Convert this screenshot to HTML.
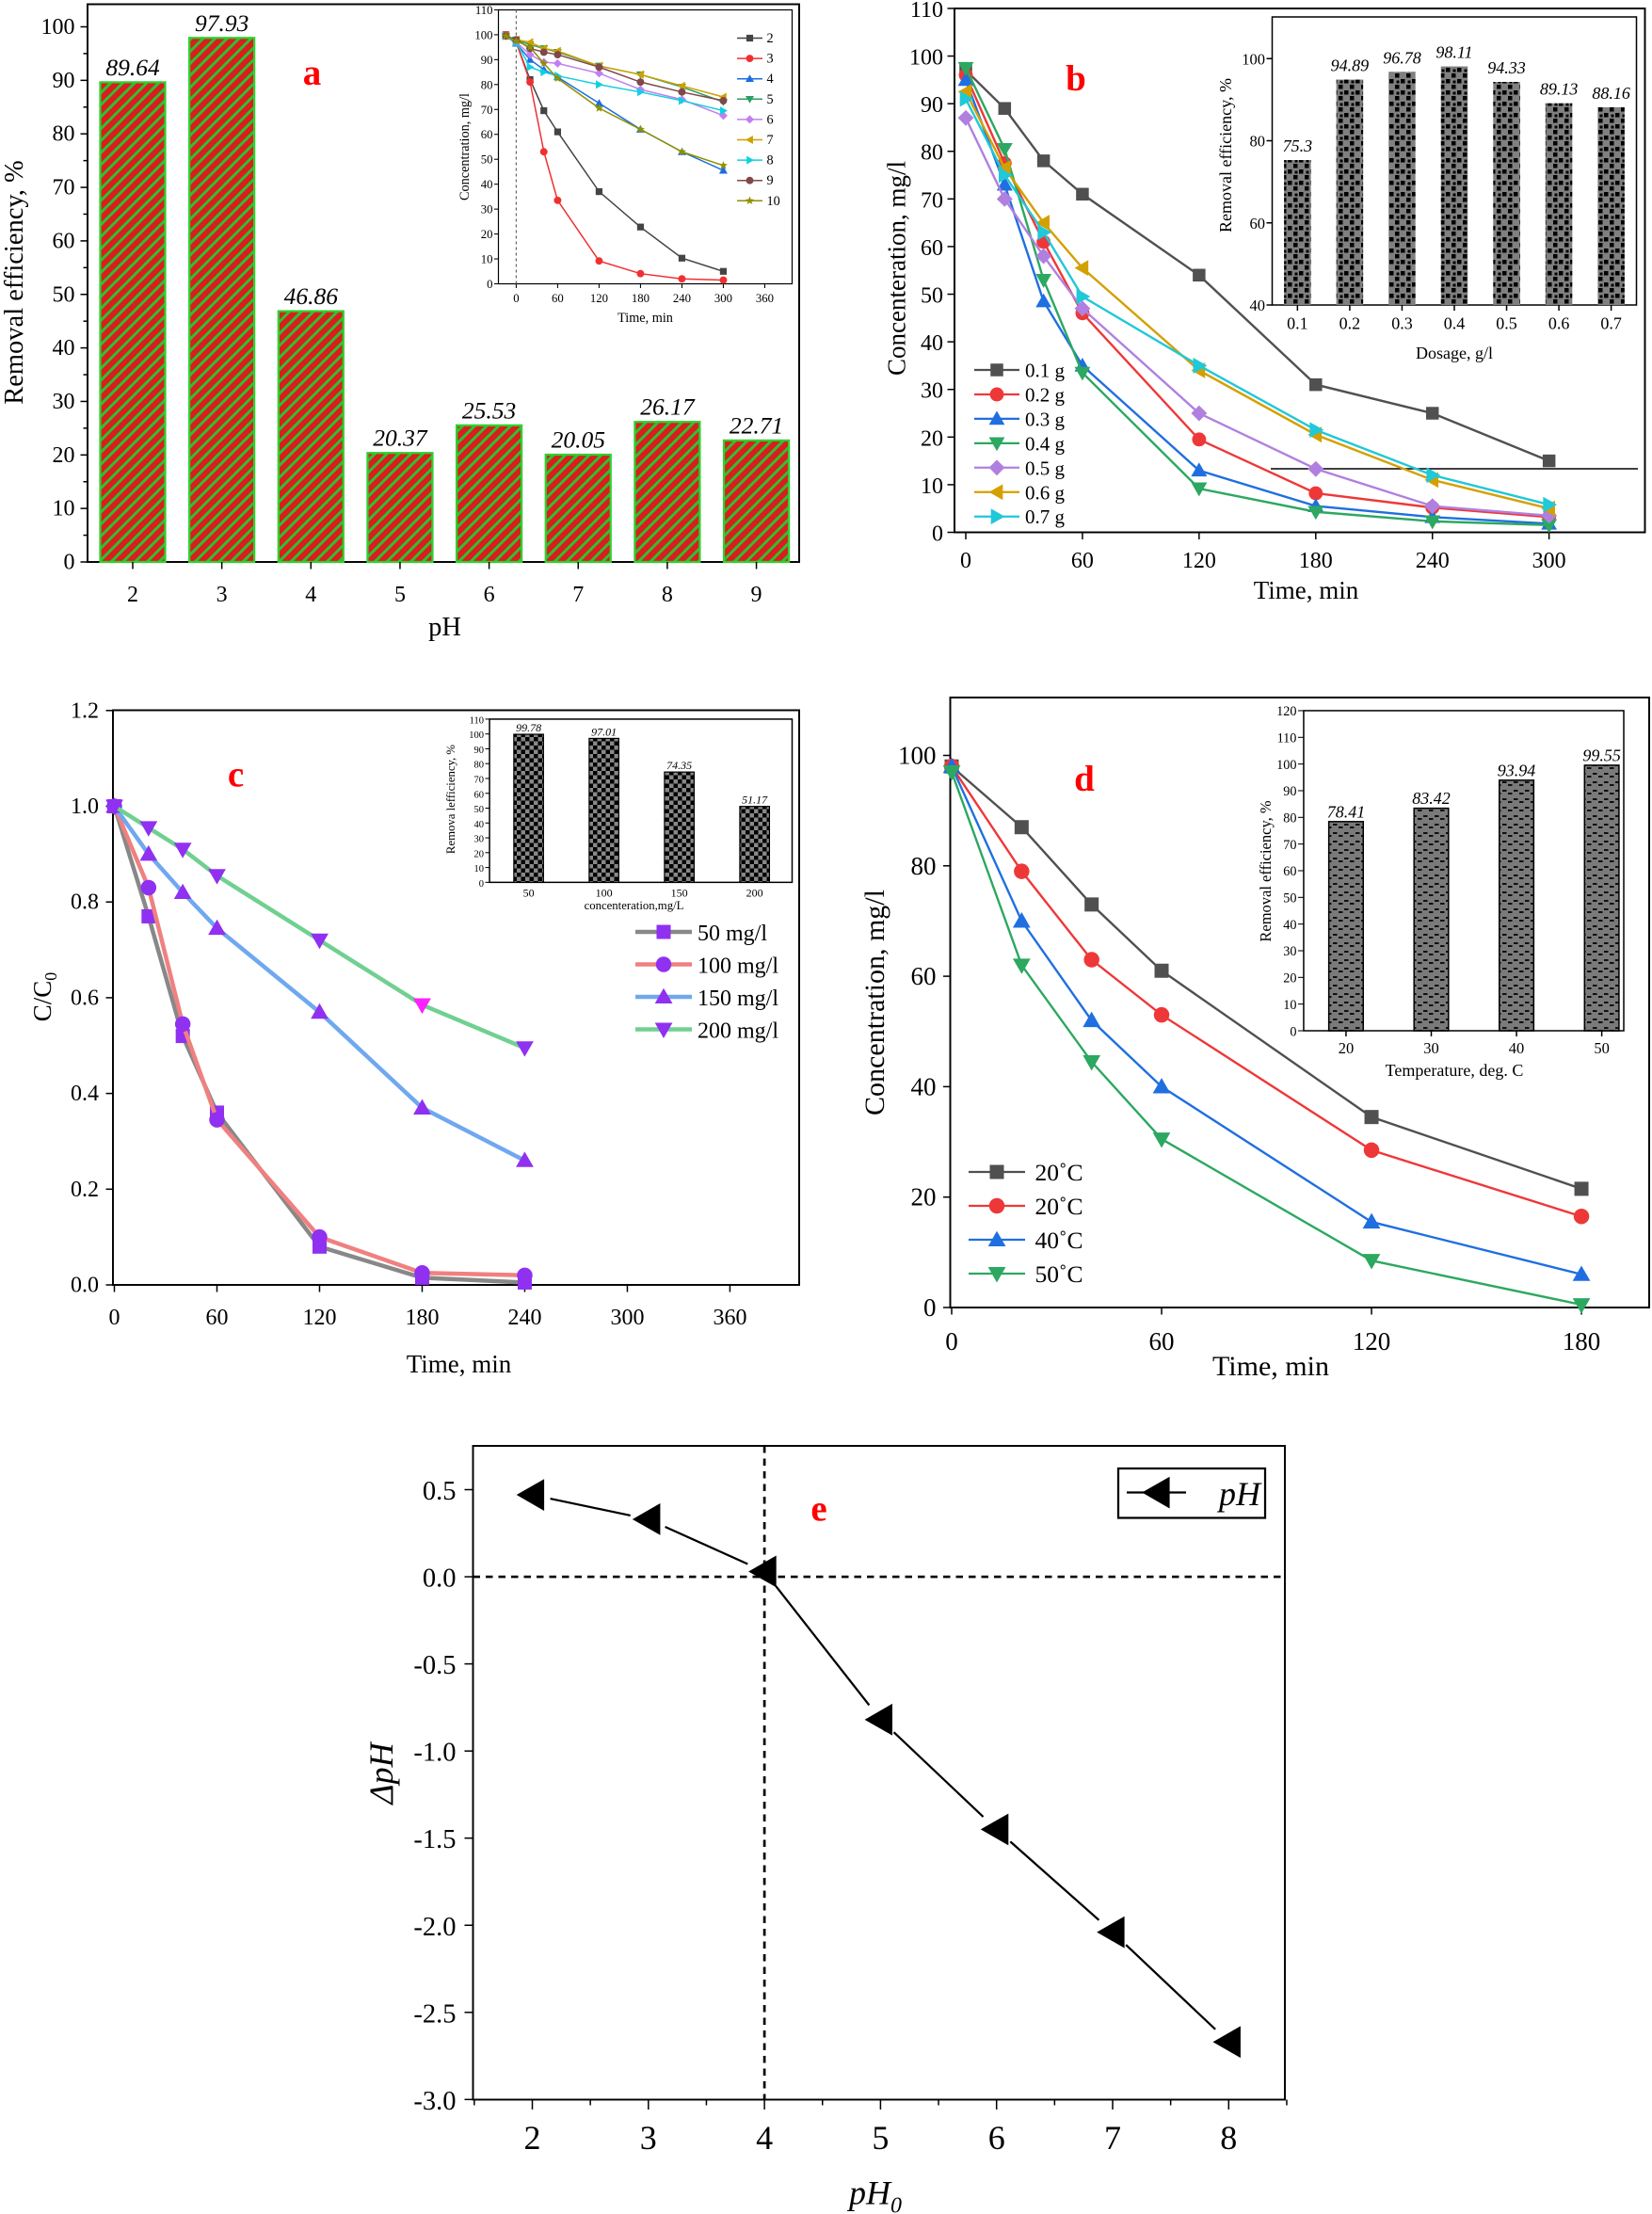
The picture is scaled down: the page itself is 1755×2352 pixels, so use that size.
<!DOCTYPE html>
<html><head><meta charset="utf-8"><style>html,body{margin:0;padding:0;background:#fff}svg{display:block}text{font-family:"Liberation Serif",serif}</style></head>
<body>
<svg id="s" xmlns="http://www.w3.org/2000/svg" width="1755" height="2352" viewBox="0 0 1170 1568">
<defs>
<pattern id="pa" patternUnits="userSpaceOnUse" width="6" height="6" patternTransform="rotate(45)"><rect width="6" height="6" fill="#d81e1e"/><rect width="2" height="6" fill="#30c030"/></pattern>
<pattern id="pb" patternUnits="userSpaceOnUse" width="8" height="8"><rect width="8" height="8" fill="#808080"/><rect x="0" y="0" width="3" height="3" fill="#000"/><rect x="4" y="4" width="3" height="3" fill="#000"/><rect x="5" y="1" width="2" height="2" fill="#000"/></pattern>
<pattern id="pc" patternUnits="userSpaceOnUse" width="6" height="6"><rect width="6" height="6" fill="#888"/><rect width="3" height="3" fill="#000"/><rect x="3" y="3" width="3" height="3" fill="#000"/></pattern>
<pattern id="pd" patternUnits="userSpaceOnUse" width="8" height="6"><rect width="8" height="6" fill="#7a7a7a"/><path d="M0 2h3M4 4h3" stroke="#000" stroke-width="1.2"/></pattern>
</defs>
<g id="g"></g>
</svg>
<script>
var g=document.getElementById('g'),out='';
function L(x1,y1,x2,y2,c,w,d){out+='<line x1="'+x1+'" y1="'+y1+'" x2="'+x2+'" y2="'+y2+'" stroke="'+(c||'#000')+'" stroke-width="'+(w||1)+'"'+(d?' stroke-dasharray="'+d+'"':'')+'/>';}
function R(x,y,w,h,f,s,sw){out+='<rect x="'+x+'" y="'+y+'" width="'+w+'" height="'+h+'" fill="'+(f||'none')+'" stroke="'+(s||'none')+'" stroke-width="'+(sw||1)+'"/>';}
function T(x,y,t,sz,a,ex){out+='<text x="'+x+'" y="'+y+'" font-size="'+sz+'" text-anchor="'+(a||'middle')+'" '+(ex||'')+'>'+t+'</text>';}
function TR(x,y,t,sz){out+='<text x="'+x+'" y="'+y+'" font-size="'+sz+'" text-anchor="middle" transform="rotate(-90 '+x+' '+y+')">'+t+'</text>';}
function M(t,x,y,r,c){
 var p;
 if(t=='s')out+='<rect x="'+(x-r)+'" y="'+(y-r)+'" width="'+2*r+'" height="'+2*r+'" fill="'+c+'"/>';
 else if(t=='o')out+='<circle cx="'+x+'" cy="'+y+'" r="'+r*1.1+'" fill="'+c+'"/>';
 else{
  var k=r*1.25;
  if(t=='u')p=[[x,y-k],[x+k,y+k*0.75],[x-k,y+k*0.75]];
  if(t=='d')p=[[x,y+k],[x+k,y-k*0.75],[x-k,y-k*0.75]];
  if(t=='l')p=[[x-k,y],[x+k*0.75,y-k],[x+k*0.75,y+k]];
  if(t=='r')p=[[x+k,y],[x-k*0.75,y-k],[x-k*0.75,y+k]];
  if(t=='m')p=[[x,y-k],[x+k,y],[x,y+k],[x-k,y]];
  if(t=='*'){p=[];for(var i=0;i<10;i++){var a=-Math.PI/2+i*Math.PI/5,rr=i%2?k*0.45:k*1.05;p.push([x+rr*Math.cos(a),y+rr*Math.sin(a)]);}}
  out+='<polygon points="'+p.map(function(q){return q[0].toFixed(1)+','+q[1].toFixed(1)}).join(' ')+'" fill="'+c+'"/>';
 }
}
function S(data,fx,fy,c,w,mk,r,mc){
 var pts=data.map(function(d){return fx(d[0]).toFixed(1)+','+fy(d[1]).toFixed(1)}).join(' ');
 out+='<polyline points="'+pts+'" fill="none" stroke="'+c+'" stroke-width="'+w+'"/>';
 data.forEach(function(d){M(mk,fx(d[0]),fy(d[1]),r,mc||c)});
}
/* ---------- Panel a ---------- */
(function(){
 var l=62,r=566,t=3,b=398,fy=function(v){return b-v*3.79};
 R(l,t,r-l,b-t,'none','#000',1.3);
 for(var v=0;v<=100;v+=10){L(l-5,fy(v),l,fy(v));T(l-9,fy(v)+5,v,16,'end');}
 for(v=5;v<100;v+=10)L(l-3,fy(v),l,fy(v));
 var vals=[89.64,97.93,46.86,20.37,25.53,20.05,26.17,22.71];
 vals.forEach(function(v,i){var x=94+i*63.1;R(x-23,fy(v),46,b-fy(v),'url(#pa)','#30d030',1.5);L(x,b,x,b+5);T(x,b+28,i+2,16);T(x,fy(v)-5,v.toFixed(2),17,'middle','font-style="italic"');});
 TR(16,200,'Removal efficiency, %',19);
 T(315,450,'pH',19);
 T(221,60,'a',26,'middle','fill="#f00" font-weight="bold"');
 /* inset */
 var il=353,ir=561,it=7,ib=201,fx=function(x){return 365.6+x*0.489},iy=function(v){return ib-v*1.764};
 R(il,it,ir-il,ib-it,'#fff','#000',0.8);
 L(fx(0),it,fx(0),ib,'#666',0.8,'2,2');
 for(v=0;v<=110;v+=10){L(il-3,iy(v),il,iy(v),'#000',0.7);T(il-4,iy(v)+3,v,8.5,'end');}
 for(var x=0;x<=360;x+=60){L(fx(x),ib,fx(x),ib+3,'#000',0.7);T(fx(x),ib+13,x,8.5);}
 TR(332,104,'Concentration, mg/l',9.5);
 T(457,228,'Time, min',9.5);
 var ts=[-15,0,20,40,60,120,180,240,300];
 var D=[
 ['2','#444','s',[100,97,82,69.5,61,37,22.8,10.3,5]],
 ['3','#f03030','o',[100,97,81,53,33.5,9.2,4.1,2,1.5]],
 ['4','#1a6fe0','u',[99.5,96.5,90,86,83,72.5,62,53,45.5]],
 ['5','#2aa060','d',[99.5,98,96,94.5,93,87.5,84,79,73]],
 ['6','#c080f0','m',[99.5,97,92,89,88.5,84.5,78,74,67.5]],
 ['7','#d0a000','l',[99.5,98,97,94.5,93.5,87.5,84,79.5,75]],
 ['8','#10d0e0','r',[99.5,97,87,85,83.5,80,77,73.5,69.5]],
 ['9','#804848','o',[99.5,98,94.5,93,92,87,81,77,73.5]],
 ['10','#909000','*',[99.5,97.5,95,88.5,82.5,70.5,62,53,47.5]]];
 D.forEach(function(s,i){S(ts.map(function(t,j){return[t,s[3][j]]}),fx,iy,s[1],1,s[2],2.4);
  var y=27+i*14.4;L(522,y,540,y,s[1],1);M(s[2],531,y,2.4,s[1]);T(543,y+3,s[0],9.5,'start');});
})();
/* ---------- Panel b ---------- */
(function(){
 var l=676,r=1165,t=6,b=377,fx=function(x){return 684+x*1.377},fy=function(v){return b-v*3.373};
 R(l,t,r-l,b-t,'none','#000',1.3);
 for(var v=0;v<=110;v+=10){L(l-5,fy(v),l,fy(v));T(l-8,fy(v)+6,v,16,'end');}
 for(var x=0;x<=300;x+=60){L(fx(x),b,fx(x),b+5);T(fx(x),b+25,x,16);}
 TR(641,190,'Concenteration, mg/l',18);
 T(925,424,'Time, min',18);
 T(762,64,'b',26,'middle','fill="#f00" font-weight="bold"');
 L(900,332,1160,332,'#000',1);
 var ts=[0,20,40,60,120,180,240,300];
 var D=[
 ['0.1 g','#505050','s',[97,89,78,71,54,31,25,15]],
 ['0.2 g','#ee3838','o',[96,77.5,61,46,19.5,8.2,5.2,3.2]],
 ['0.3 g','#1f6fe0','u',[95,73,48.5,35,13,5.5,3.2,1.8]],
 ['0.4 g','#2ca860','d',[97.5,80.5,53,33.5,9.2,4.3,2.3,1.5]],
 ['0.5 g','#b080e0','m',[87,70,58,47,25,13.3,5.5,3.5]],
 ['0.6 g','#d4a000','l',[92.5,76.5,65,55.5,34,20.5,11,5]],
 ['0.7 g','#20c8d8','r',[91,75,63,49.5,35,21.5,12,5.8]]];
 D.forEach(function(s,i){S(ts.map(function(t,j){return[t,s[3][j]]}),fx,fy,s[1],1.6,s[2],4.5);
  var y=262+i*17.3;L(690,y,722,y,s[1],1.5);M(s[2],706,y,4.5,s[1]);T(726,y+5,s[0],14,'start');});
 /* inset */
 var il=901,ir=1159,it=12,ib=216,iy=function(v){return ib-(v-40)*2.908};
 R(il,it,ir-il,ib-it,'#fff','#000',1);
 for(v=40;v<=100;v+=20){L(il-4,iy(v),il,iy(v));T(il-5,iy(v)+4,v,11,'end');}
 var vals=[75.3,94.89,96.78,98.11,94.33,89.13,88.16];
 vals.forEach(function(v,i){var x=918.9+i*37.03;R(x-9.5,iy(v),19,ib-iy(v),'url(#pb)');L(x,ib,x,ib+4);T(x,ib+17,(0.1*(i+1)).toFixed(1),12);T(x,iy(v)-6,v,12,'middle','font-style="italic"');});
 TR(872,110,'Removal efficiency, %',12);
 T(1030,254,'Dosage, g/l',12);
})();
/* ---------- Panel c ---------- */
(function(){
 var l=80,r=566,t=503,b=910,fx=function(x){return 81+x*1.211},fy=function(v){return b-v*339};
 R(l,t,r-l,b-t,'none','#000',1.3);
 for(var v=0;v<=1.2001;v+=0.2){L(l-5,fy(v),l,fy(v));T(l-10,fy(v)+5,v.toFixed(1),16,'end');}
 for(var x=0;x<=360;x+=60){L(fx(x),b,fx(x),b+5);T(fx(x),b+28,x,16);}
 out+='<text x="0" y="0" font-size="18" text-anchor="middle" transform="translate(36 706) rotate(-90)">C/C<tspan font-size="12" dy="4">0</tspan></text>';
 T(325,972,'Time, min',18);
 T(167,557,'c',26,'middle','fill="#f00" font-weight="bold"');
 var ts=[0,20,40,60,120,180,240],mc='#9030f0';
 var D=[
 ['50 mg/l','#888','s',[1,0.77,0.52,0.36,0.08,0.015,0.005]],
 ['100 mg/l','#f08080','o',[1,0.83,0.545,0.345,0.1,0.025,0.02]],
 ['150 mg/l','#70a8f0','u',[1,0.9,0.82,0.745,0.57,0.37,0.26]],
 ['200 mg/l','#70d090','d',[1,0.955,0.91,0.855,0.72,0.585,0.495]]];
 D.forEach(function(s,i){S(ts.map(function(t,j){return[t,s[3][j]]}),fx,fy,s[1],3,s[2],5,mc);
  var y=660+i*23;L(450,y,490,y,s[1],3);M(s[2],470,y,5,mc);T(494,y+6,s[0],16,'start');});
 M('d',fx(180),fy(0.585),5,'#ff20ff');
 /* inset */
 var il=346.7,ir=561,it=509.3,ib=624.9,iy=function(v){return ib-v*1.051};
 R(il,it,ir-il,ib-it,'#fff','#000',1);
 for(v=0;v<=110;v+=10){L(il-3,iy(v),il,iy(v),'#000',0.7);T(il-4,iy(v)+3,v,7,'end');}
 var vals=[99.78,97.01,74.35,51.17],lb=[50,100,150,200];
 vals.forEach(function(v,i){var x=374.4+i*53.35;R(x-10.5,iy(v),21,ib-iy(v),'url(#pc)','#000',0.8);T(x,ib+10,lb[i],8);T(x,iy(v)-2,v.toFixed(2),8,'middle','font-style="italic"');});
 TR(322,566,'Remova lefficiency, %',8.5);
 T(449,644,'concenteration,mg/L',8.5);
})();
/* ---------- Panel d ---------- */
(function(){
 var l=673,r=1168,t=494,b=926,fx=function(x){return 674+x*2.478},fy=function(v){return b-v*3.91};
 R(l,t,r-l,b-t,'none','#000',1.3);
 for(var v=0;v<=100;v+=20){L(l-5,fy(v),l,fy(v));T(l-10,fy(v)+6,v,18,'end');}
 for(var x=0;x<=180;x+=60){L(fx(x),b,fx(x),b+5);T(fx(x),b+30,x,18);}
 TR(626,710,'Concentration, mg/l',20);
 T(900,974,'Time, min',20);
 T(768,560,'d',26,'middle','fill="#f00" font-weight="bold"');
 var ts=[0,20,40,60,120,180];
 var D=[
 ['20˚C','#505050','s',[98,87,73,61,34.5,21.5]],
 ['20˚C','#ee3838','o',[98,79,63,53,28.5,16.5]],
 ['40˚C','#1f6fe0','u',[98,70,52,40,15.5,6]],
 ['50˚C','#2ca860','d',[97,62,44.5,30.5,8.5,0.5]]];
 D.forEach(function(s,i){S(ts.map(function(t,j){return[t,s[3][j]]}),fx,fy,s[1],1.6,s[2],5);
  var y=830+i*24;L(686,y,726,y,s[1],1.5);M(s[2],706,y,5,s[1]);T(733,y+6,s[0],17,'start');});
 /* inset */
 var il=923.3,ir=1150,it=503.3,ib=730,iy=function(v){return ib-v*1.889};
 R(il,it,ir-il,ib-it,'#fff','#000',1);
 for(v=0;v<=120;v+=10){L(il-4,iy(v),il,iy(v),'#000',0.7);T(il-5,iy(v)+3.5,v,9.5,'end');}
 var vals=[78.41,83.42,93.94,99.55];
 vals.forEach(function(v,i){var x=953.3+i*60.37;R(x-12.2,iy(v),24.4,ib-iy(v),'url(#pd)','#000',1);L(x,ib,x,ib+4);T(x,ib+16,20+i*10,11);T(x,iy(v)-3,v.toFixed(2),12,'middle','font-style="italic"');});
 TR(900,617,'Removal efficiency, %',11);
 T(1030,762,'Temperature, deg. C',12);
})();
/* ---------- Panel e ---------- */
(function(){
 var l=335,r=910,t=1024,b=1487,fx=function(x){return 377+(x-2)*82.2},fy=function(v){return 1116.7-v*123.4};
 R(l,t,r-l,b-t,'none','#000',1.3);
 for(var v=0.5;v>=-3.001;v-=0.5){L(l-6,fy(v),l,fy(v));T(l-12,fy(v)+7,(v==0?'0.0':v.toFixed(1)),19,'end');}
 for(var x=1.5;x<=8.5;x+=0.5){var big=(x%1==0);L(fx(x),b,fx(x),b+(big?7:4));if(big)T(fx(x),b+35,x,24);}
 L(fx(4),t,fx(4),b,'#000',1.8,'5,4');L(l,fy(0),r,fy(0),'#000',1.8,'5,4');
 var d=[[2,0.47],[3,0.33],[4,0.03],[5,-0.82],[6,-1.45],[7,-2.04],[8,-2.67]];
 for(var i=0;i<d.length-1;i++){var x1=fx(d[i][0]),y1=fy(d[i][1]),x2=fx(d[i+1][0]),y2=fy(d[i+1][1]),dx=x2-x1,dy=y2-y1,len=Math.sqrt(dx*dx+dy*dy),g=13;L(x1+dx*g/len,y1+dy*g/len,x2-dx*g/len,y2-dy*g/len,'#000',1.5);}
 d.forEach(function(p){M('l',fx(p[0]),fy(p[1]),9,'#000')});
 R(792,1040,104,35,'none','#000',1.5);L(798,1057,840,1057,'#000',1.5);M('l',820,1057,9,'#000');
 T(878,1066,'pH',24,'middle','font-style="italic"');
 T(580,1077,'e',26,'middle','fill="#f00" font-weight="bold"');
 out+='<text x="0" y="0" font-size="24" font-style="italic" text-anchor="middle" transform="translate(278 1256) rotate(-90)">ΔpH</text>';
 out+='<text x="620" y="1561" font-size="24" font-style="italic" text-anchor="middle">pH<tspan font-size="16" dy="6">0</tspan></text>';
})();
g.innerHTML=out;
</script>
</body></html>
